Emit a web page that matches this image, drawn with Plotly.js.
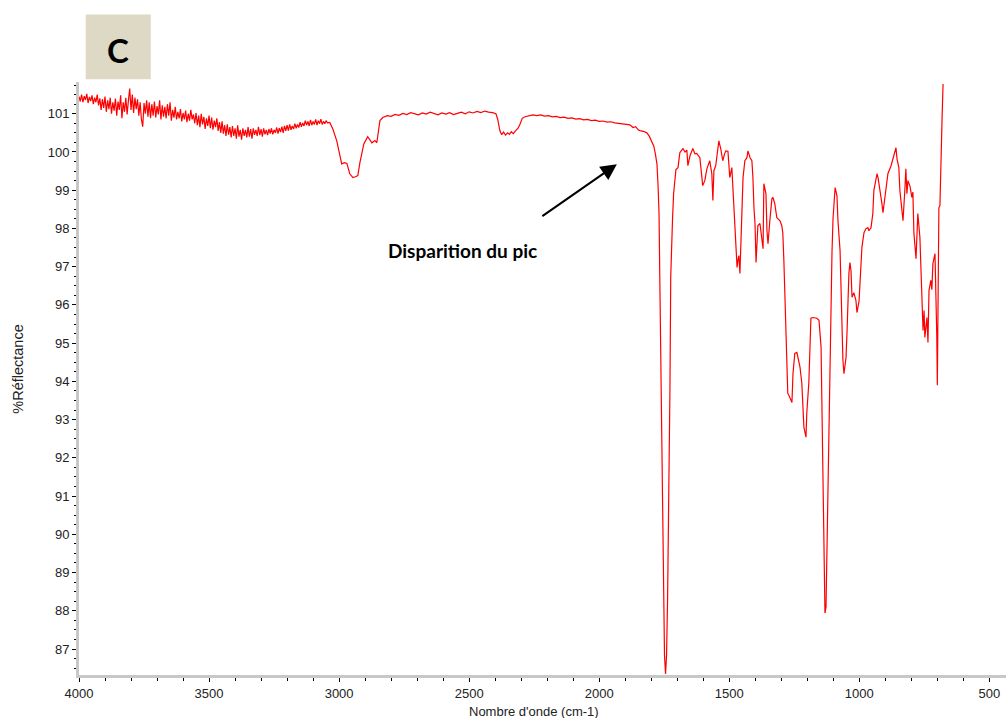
<!DOCTYPE html>
<html>
<head>
<meta charset="utf-8">
<script src="https://cdn.plot.ly/plotly-3.0.1.min.js"></script>
<style>
  html, body { margin: 0; padding: 0; background: #ffffff; }
  #chart { width: 1006px; height: 718px; }
</style>
</head>
<body>
<div id="chart"></div>
<script>
// Wavenumber (cm-1) and %Réflectance (panel C)
const wavenumber = [
  4000,3995,3990,3985,3980,3975,3970,3965,3960,3955,
  3950,3945,3940,3935,3930,3925,3920,3915,3910,3905,
  3900,3895,3890,3885,3880,3875,3870,3865,3860,3855,
  3850,3845,3840,3835,3830,3825,3820,3815,3810,3805,
  3800,3795,3790,3785,3780,3775,3770,3765,3760,3755,
  3750,3745,3740,3735,3730,3725,3720,3715,3710,3705,
  3700,3695,3690,3685,3680,3675,3670,3665,3660,3655,
  3650,3645,3640,3635,3630,3625,3620,3615,3610,3605,
  3600,3595,3590,3585,3580,3575,3570,3565,3560,3555,
  3550,3545,3540,3535,3530,3525,3520,3515,3510,3505,
  3500,3495,3490,3485,3480,3475,3470,3465,3460,3455,
  3450,3445,3440,3435,3430,3425,3420,3415,3410,3405,
  3400,3395,3390,3385,3380,3375,3370,3365,3360,3355,
  3350,3345,3340,3335,3330,3325,3320,3315,3310,3305,
  3300,3295,3290,3285,3280,3275,3270,3265,3260,3255,
  3250,3245,3240,3235,3230,3225,3220,3215,3210,3205,
  3200,3195,3190,3185,3180,3175,3170,3165,3160,3155,
  3150,3145,3140,3135,3130,3125,3120,3115,3110,3105,
  3100,3095,3090,3085,3080,3075,3070,3065,3060,3055,
  3050,3045,3036,3024,
  3009,2990,2980,2970,2959,2947,2935,2928,2920,2905,2890,2874,2862,2855,2843,2832,2815,2800,2785,2770,
  2755,2740,2725,2710,2695,2680,2665,2650,2635,2620,2605,2590,2575,2560,2545,2530,2515,2500,2485,2470,
  2455,2440,2425,2410,2397,2390,2382,2375,2368,2360,2352,2345,2338,2330,2322,2312,2305,2296,2285,2270,
  2255,2240,2225,2210,2195,2180,2165,2150,2135,2120,2105,2090,2075,2060,2045,2030,2015,2000,1985,1970,
  1955,1940,1925,1910,1895,1882,1870,1860,1850,1844,1830,1817,1808,1798,1790,1784,1778,1774,1770,1767,
  1763,1759,1755,1752,1749,1745,1741,1737,1732,1728,1725,1722,1718,1714,1709,1705,1697,1690,1678,1670,
  1663,1659,1651,1640,1632,1625,1613,1605,1602,1594,1586,1575,1567,1563,1559,1552,1544,1540,1532,1525,
  1518,1513,1505,1498,1490,1486,1482,1478,1474,1470,1466,1463,1459,1455,1451,1447,1440,1432,1428,1420,
  1413,1409,1405,1401,1397,1394,1390,1382,1374,1370,1367,1359,1355,1351,1344,1336,1332,1325,1317,1305,
  1298,1294,1290,1286,1282,1278,1275,1267,1259,1255,1248,1240,1236,1228,1221,1217,1213,1205,1202,1194,
  1190,1186,1178,1163,1155,1147,1144,1140,1136,1132,1128,1124,1120,1116,1109,1105,1101,1097,1093,1086,
  1082,1074,1071,1067,1063,1059,1051,1047,1044,1040,1036,1032,1028,1021,1013,1009,1001,994,990,982,
  975,967,963,955,948,944,932,928,921,913,909,902,894,890,878,871,867,859,855,848,
  844,836,832,825,821,817,813,805,798,794,790,782,778,775,767,763,759,755,751,748,
  740,736,732,725,721,717,709,705,702,700,698,694,690,686,682,678
];
const reflectance = [
  101.45,101.32,101.50,101.30,101.46,101.36,101.52,101.28,101.44,101.33,
  101.48,101.25,101.42,101.30,101.50,101.22,101.40,101.10,101.38,101.15,
  101.45,101.05,101.35,101.12,101.42,101.00,101.30,101.08,101.40,100.95,
  101.32,101.10,101.48,100.88,101.30,101.05,101.42,100.98,101.35,101.66,
  101.10,101.50,101.02,101.42,101.12,101.38,100.95,101.30,100.85,100.66,
  101.28,101.00,101.35,100.92,101.30,100.88,101.25,100.95,101.32,100.90,
  101.20,100.98,101.35,100.85,101.22,100.92,101.18,100.88,101.25,100.95,
  101.30,100.82,101.10,100.90,101.18,100.85,101.05,100.88,101.12,100.80,
  101.02,100.85,101.08,100.78,101.00,100.82,101.10,100.85,100.98,100.75,
  101.02,100.70,100.95,100.65,101.00,100.72,100.92,100.60,100.88,100.68,
  100.95,100.62,100.90,100.58,100.82,100.65,100.88,100.55,100.78,100.50,
  100.80,100.48,100.70,100.42,100.72,100.45,100.65,100.38,100.68,100.42,
  100.62,100.35,100.70,100.40,100.58,100.32,100.62,100.42,100.58,100.38,
  100.65,100.40,100.60,100.35,100.62,100.45,100.58,100.42,100.66,100.44,
  100.60,100.40,100.62,100.46,100.58,100.44,100.60,100.48,100.62,100.46,
  100.58,100.50,100.64,100.48,100.62,100.52,100.66,100.50,100.68,100.55,
  100.70,100.56,100.72,100.58,100.68,100.60,100.74,100.62,100.72,100.64,
  100.78,100.66,100.76,100.68,100.82,100.70,100.80,100.68,100.84,100.70,
  100.80,100.72,100.85,100.70,100.82,100.74,100.86,100.72,100.80,100.74,
  100.82,100.76,100.77,100.60,
  100.29,99.69,99.72,99.70,99.43,99.33,99.36,99.38,99.72,100.21,100.40,100.24,100.30,100.24,100.82,100.90,100.95,100.93,100.98,100.96,
  101.01,100.98,101.03,101.00,100.97,101.02,100.99,101.04,101.00,100.97,101.02,100.99,101.03,100.98,101.01,101.04,101.00,101.05,101.02,101.06,
  101.03,101.07,101.04,101.03,101.00,100.85,100.56,100.45,100.52,100.44,100.50,100.46,100.53,100.48,100.55,100.62,100.72,100.88,100.92,100.95,
  100.97,100.95,100.97,100.94,100.95,100.92,100.93,100.90,100.91,100.88,100.89,100.86,100.87,100.84,100.85,100.82,100.83,100.80,100.81,100.78,
  100.79,100.76,100.75,100.74,100.72,100.71,100.64,100.66,100.58,100.56,100.54,100.50,100.42,100.29,100.15,99.95,99.69,99.17,98.40,96.69,
  94.76,92.54,90.45,88.59,86.84,86.35,86.84,88.36,91.10,93.82,96.72,97.60,98.26,98.90,99.25,99.54,99.59,99.98,100.09,100.00,
  100.05,99.64,99.90,100.09,99.95,99.96,99.85,99.43,99.12,99.25,99.56,99.77,99.43,98.73,99.51,99.64,100.03,100.29,100.06,99.77,
  99.95,100.03,100.02,99.33,99.59,99.07,98.30,98.00,97.42,96.98,97.20,97.29,96.82,97.87,98.54,99.33,99.77,99.85,100.03,99.85,
  99.77,99.33,98.54,98.13,97.11,97.50,98.07,98.13,97.68,97.47,99.17,98.91,97.94,97.60,98.20,98.78,98.81,98.65,98.28,98.20,
  98.07,97.87,97.16,96.20,95.25,94.37,93.69,93.58,93.45,94.20,94.73,94.76,94.60,94.37,93.95,93.06,92.80,92.54,93.16,93.97,
  94.99,95.65,95.67,95.65,95.60,94.89,93.50,91.50,89.50,87.94,88.10,89.80,91.60,93.32,95.67,97.37,98.26,98.81,99.07,98.86,
  98.20,97.42,96.45,95.38,94.55,94.20,94.63,95.33,96.04,96.82,97.11,96.90,96.20,96.32,96.12,95.80,96.10,96.85,97.50,97.89,
  97.99,98.02,97.94,98.02,98.39,98.99,99.43,99.33,99.04,98.65,98.41,98.78,99.07,99.43,99.64,99.82,99.96,100.11,99.82,99.59,
  98.99,98.52,98.20,98.99,99.56,98.91,99.25,99.10,98.81,98.95,97.87,97.21,97.94,98.39,97.76,97.08,96.20,95.33,95.85,95.15,
  95.67,95.02,96.38,96.64,96.40,97.08,97.34,96.20,95.15,93.90,95.85,98.54,98.60,100.03,100.82,101.78
];
const xTickValues = [4000, 3500, 3000, 2500, 2000, 1500, 1000, 500];
const yTickValues = [87, 88, 89, 90, 91, 92, 93, 94, 95, 96, 97, 98, 99, 100, 101];
const panelLabel = "C";
const annotationText = "Disparition du pic";
const xTitle = "Nombre d'onde (cm-1)";
const yTitle = "%Réflectance";

const trace = {
  x: wavenumber,
  y: reflectance,
  type: 'scatter',
  mode: 'lines',
  line: { color: '#ff0000', width: 1.2 },
  hoverinfo: 'x+y'
};

const axisFont = { family: 'Liberation Sans, Arial, sans-serif', size: 13, color: '#222222' };

const layout = {
  width: 1006,
  height: 718,
  margin: { l: 79, r: 0, t: 82, b: 43 },
  paper_bgcolor: '#ffffff',
  plot_bgcolor: '#ffffff',
  showlegend: false,
  xaxis: {
    range: [4000, 436],
    tickmode: 'array',
    tickvals: xTickValues,
    ticktext: xTickValues.map(String),
    ticks: 'outside',
    ticklen: 4,
    tickwidth: 1,
    tickcolor: '#000000',
    minor: { dtick: 100, tick0: 0, ticks: 'outside', ticklen: 3, tickcolor: '#000000', tickwidth: 1 },
    showline: true,
    linecolor: '#c8c8c8',
    linewidth: 3,
    showgrid: false,
    zeroline: false,
    tickfont: axisFont
  },
  yaxis: {
    range: [86.32, 101.83],
    tickmode: 'array',
    tickvals: yTickValues,
    ticktext: yTickValues.map(String),
    ticks: 'outside',
    ticklen: 4,
    tickwidth: 1,
    tickcolor: '#000000',
    minor: { dtick: 0.25, tick0: 0, ticks: 'outside', ticklen: 2, tickcolor: '#000000', tickwidth: 1 },
    showline: true,
    linecolor: '#c8c8c8',
    linewidth: 3,
    showgrid: false,
    zeroline: false,
    tickfont: axisFont
  },
  shapes: [
    {
      type: 'rect', xref: 'paper', yref: 'paper',
      x0: 0.0072, x1: 0.0774, y0: 1.0045, y1: 1.114,
      fillcolor: '#ddd9c4', line: { width: 0 }, layer: 'above'
    }
  ],
  annotations: [
    {
      xref: 'paper', yref: 'paper', x: 0.0419, y: 1.0534,
      text: '<b>' + panelLabel + '</b>', showarrow: false,
      xanchor: 'center', yanchor: 'middle',
      font: { family: 'Lato, Open Sans, sans-serif', size: 33, color: '#000000' }
    },
    {
      xref: 'paper', yref: 'paper', x: 0.414, y: 0.7165,
      text: '<b>' + annotationText + '</b>', showarrow: false,
      xanchor: 'center', yanchor: 'middle',
      font: { family: 'Lato, Open Sans, sans-serif', size: 19, color: '#000000' }
    },
    {
      xref: 'paper', yref: 'paper', x: 0.5802, y: 0.8614,
      ax: -76, ay: 53, axref: 'pixel', ayref: 'pixel',
      text: '', showarrow: true,
      arrowhead: 2, arrowsize: 1.6, arrowwidth: 2, arrowcolor: '#000000'
    },
    {
      xref: 'paper', yref: 'paper', x: 0.4906, y: -0.0618,
      text: xTitle, showarrow: false, xanchor: 'center', yanchor: 'middle',
      font: { family: 'Liberation Sans, Arial, sans-serif', size: 13, color: '#222222' }
    },
    {
      xref: 'paper', yref: 'paper', x: -0.0661, y: 0.516,
      text: yTitle, showarrow: false, textangle: -90, xanchor: 'center', yanchor: 'middle',
      font: { family: 'Liberation Sans, Arial, sans-serif', size: 14.5, color: '#222222' }
    }
  ]
};

Plotly.newPlot('chart', [trace], layout, { displayModeBar: false, staticPlot: true });
</script>
</body>
</html>
